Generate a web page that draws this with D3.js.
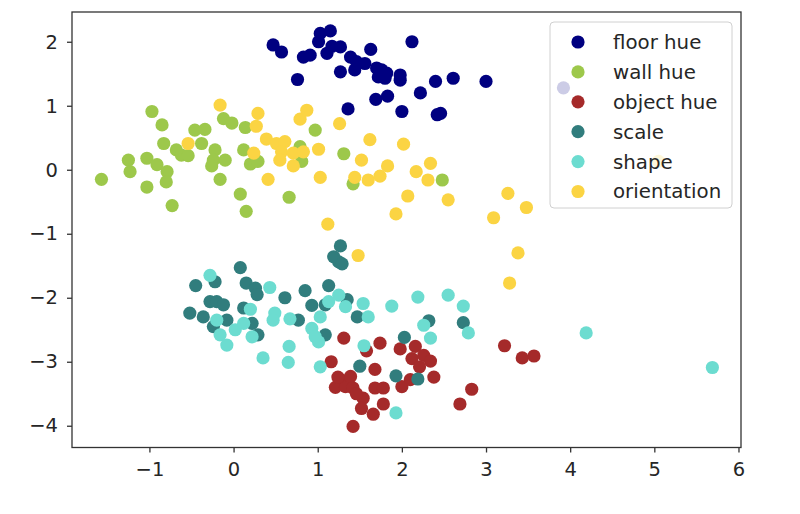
<!DOCTYPE html>
<html>
<head>
<meta charset="utf-8">
<script src="https://cdn.jsdelivr.net/npm/d3@7"></script>
<style>
  body { margin: 0; background: #fff; }
  text { font-family: "DejaVu Sans", sans-serif; fill: #262626; }
</style>
</head>
<body>
<svg id="chart"></svg>
<script>
const seriesNames = ['floor hue', 'wall hue', 'object hue', 'scale', 'shape', 'orientation'];
const seriesColors = ['#000080', '#9dc84b', '#a52a2a', '#317d7d', '#6cdcd0', '#fbd443'];

const floorHue = [
  [0.47, 1.95], [0.57, 1.84], [1.03, 2.13], [1.15, 2.17], [1.01, 2.00], [1.11, 1.82],
  [0.83, 1.76], [0.91, 1.79], [1.17, 1.93], [1.27, 1.92], [1.39, 1.76], [1.63, 1.88],
  [1.46, 1.69], [1.27, 1.53], [1.44, 1.56], [1.56, 1.66], [1.70, 1.59], [1.76, 1.56],
  [1.82, 1.51], [1.72, 1.45], [1.80, 1.43], [1.98, 1.48], [1.98, 1.40], [2.12, 2.00],
  [0.76, 1.41], [1.36, 0.95], [1.69, 1.10], [1.83, 1.15], [2.22, 1.20], [2.00, 0.91],
  [2.40, 1.38], [2.61, 1.43], [3.00, 1.38], [2.42, 0.86], [2.46, 0.88], [3.92, 1.28]
];
const wallHue = [
  [-0.97, 0.91], [-0.85, 0.70], [-0.83, 0.41], [-1.25, 0.15], [-1.23, -0.03], [-1.57, -0.15],
  [-1.03, 0.18], [-0.91, 0.08], [-0.79, -0.03], [-0.80, -0.19], [-1.03, -0.27], [-0.73, -0.56],
  [-0.68, 0.31], [-0.62, 0.23], [-0.54, 0.22], [-0.46, 0.62], [-0.34, 0.63], [-0.38, 0.41],
  [-0.22, 0.31], [-0.24, 0.15], [-0.26, 0.06], [-0.10, 0.15], [-0.16, -0.15], [0.08, -0.38],
  [0.15, -0.65], [-0.12, 0.80], [-0.02, 0.73], [0.14, 0.66], [0.12, 0.31], [0.20, 0.09],
  [0.29, 0.13], [0.66, -0.43], [0.79, 0.36], [0.81, 0.13], [0.97, 0.62], [1.31, 0.25],
  [1.42, -0.22], [2.48, -0.16]
];
const objectHue = [
  [1.31, -2.63], [1.16, -3.00], [1.74, -2.71], [1.58, -2.83], [1.98, -2.80], [2.16, -2.76],
  [2.26, -2.90], [2.12, -2.95], [2.34, -2.99], [2.21, -3.08], [1.68, -3.12], [1.27, -3.28],
  [1.21, -3.40], [1.33, -3.39], [1.42, -3.41], [1.39, -3.23], [1.68, -3.41], [1.78, -3.41],
  [2.00, -3.39], [2.10, -3.28], [2.38, -3.24], [1.54, -3.57], [1.78, -3.66], [1.52, -3.73],
  [1.66, -3.82], [1.42, -4.01], [2.83, -3.43], [2.69, -3.66], [3.22, -2.75], [3.43, -2.94],
  [3.57, -2.91], [1.24, -3.24], [1.46, -3.50]
];
const scaleVals = [
  [0.08, -1.53], [-0.45, -1.81], [-0.22, -1.75], [0.15, -1.77], [0.26, -1.85], [0.28, -1.95],
  [-0.52, -2.24], [-0.36, -2.30], [-0.28, -2.06], [-0.20, -2.06], [-0.12, -2.11], [-0.24, -2.45],
  [-0.08, -2.35], [0.12, -2.16], [0.22, -2.40], [0.29, -2.58], [0.61, -2.00], [0.77, -2.35],
  [0.85, -1.89], [0.93, -2.12], [1.13, -1.81], [1.25, -1.44], [1.09, -2.11], [1.35, -2.03],
  [1.09, -2.58], [1.27, -1.19], [1.19, -1.36], [1.29, -1.47], [1.47, -2.30], [2.32, -2.36],
  [2.73, -2.39], [1.50, -3.07], [2.03, -2.62], [1.93, -3.22], [2.19, -3.27]
];
const shapeVals = [
  [-0.28, -1.65], [0.43, -1.84], [-0.20, -2.35], [-0.16, -2.58], [-0.08, -2.74], [0.02, -2.50],
  [0.12, -2.40], [0.20, -2.18], [0.22, -2.61], [0.49, -2.24], [0.47, -2.35], [0.67, -2.33],
  [0.35, -2.94], [0.66, -2.76], [0.65, -3.01], [1.03, -2.30], [0.93, -2.48], [1.01, -2.69],
  [1.13, -2.06], [1.25, -1.96], [1.33, -2.14], [1.03, -3.08], [0.97, -2.61], [1.54, -2.09],
  [1.60, -2.30], [1.88, -2.13], [2.19, -1.99], [2.55, -1.96], [2.73, -2.13], [2.26, -2.43],
  [2.34, -2.63], [2.79, -2.55], [1.55, -2.75], [1.93, -3.80], [4.19, -2.55], [5.69, -3.09]
];
const orientation = [
  [-0.16, 1.01], [-0.54, 0.41], [0.29, 0.88], [0.27, 0.68], [0.79, 0.79], [0.87, 0.93],
  [0.24, 0.26], [0.39, 0.48], [0.51, 0.41], [0.61, 0.44], [0.57, 0.28], [0.55, 0.15],
  [0.71, 0.26], [0.71, 0.06], [0.83, 0.28], [0.41, -0.15], [1.26, 0.72], [1.01, 0.32],
  [1.62, 0.47], [2.02, 0.40], [1.52, 0.15], [1.03, -0.12], [1.44, -0.12], [1.60, -0.16],
  [1.74, -0.10], [1.83, 0.06], [2.17, -0.03], [2.34, 0.10], [2.31, -0.16], [2.07, -0.41],
  [1.93, -0.69], [2.55, -0.47], [1.12, -0.85], [3.26, -0.37], [3.48, -0.59], [3.09, -0.75],
  [1.48, -1.34], [3.38, -1.30], [3.28, -1.77], [5.05, 0.13]
];
const xTicks = [-1, 0, 1, 2, 3, 4, 5, 6];
const yTicks = [-4, -3, -2, -1, 0, 1, 2];

const allSeries = [floorHue, wallHue, objectHue, scaleVals, shapeVals, orientation];

const width = 800;
const height = 514;
const plot = { left: 72, top: 12, right: 741, bottom: 447.5 };

const svg = d3.select('#chart')
    .attr('width', width)
    .attr('height', height);

const x = d3.scaleLinear()
  .domain([-1.92, 6.03])
  .range([plot.left, plot.right]);
const y = d3.scaleLinear()
  .domain([-4.34, 2.465])
  .range([plot.bottom, plot.top]);

// points, drawn series by series so later ones sit on top
allSeries.forEach((pts, i) => {
  svg.append('g')
    .selectAll('circle')
    .data(pts)
    .join('circle')
      .attr('cx', d => x(d[0]))
      .attr('cy', d => y(d[1]))
      .attr('r', 6.6)
      .attr('fill', seriesColors[i]);
});

const fmt = d3.format('d');
const xAxis = svg.append('g')
    .attr('transform', `translate(0,${plot.bottom})`)
    .call(d3.axisBottom(x).tickValues(xTicks).tickFormat(fmt).tickSize(5).tickPadding(10));
const yAxis = svg.append('g')
    .attr('transform', `translate(${plot.left},0)`)
    .call(d3.axisLeft(y).tickValues(yTicks).tickFormat(fmt).tickSize(5).tickPadding(9));

[xAxis, yAxis].forEach(ax => {
  ax.select('.domain').remove();
  ax.selectAll('line').attr('stroke', '#333').attr('stroke-width', 1.3);
  ax.selectAll('text')
    .attr('font-family', '"DejaVu Sans", sans-serif')
    .attr('font-size', 19.5)
    .attr('fill', '#262626');
});

// frame
svg.append('rect')
    .attr('x', plot.left)
    .attr('y', plot.top)
    .attr('width', plot.right - plot.left)
    .attr('height', plot.bottom - plot.top)
    .attr('fill', 'none')
    .attr('stroke', '#333')
    .attr('stroke-width', 1.3);

// legend
const legend = svg.append('g')
    .attr('transform', 'translate(550,22)');
legend.append('rect')
    .attr('width', 182)
    .attr('height', 186)
    .attr('rx', 4)
    .attr('fill', '#fff')
    .attr('fill-opacity', 0.8)
    .attr('stroke', '#d0d0d0');
const items = legend.selectAll('g.item')
  .data(seriesNames)
  .join('g')
    .attr('class', 'item')
    .attr('transform', (d, i) => `translate(0,${20 + i * 29.9})`);
items.append('circle')
    .attr('cx', 28)
    .attr('r', 6.6)
    .attr('fill', (d, i) => seriesColors[i]);
items.append('text')
    .attr('x', 63)
    .attr('dy', '0.35em')
    .attr('font-size', 19.8)
    .text(d => d);
</script>
</body>
</html>
